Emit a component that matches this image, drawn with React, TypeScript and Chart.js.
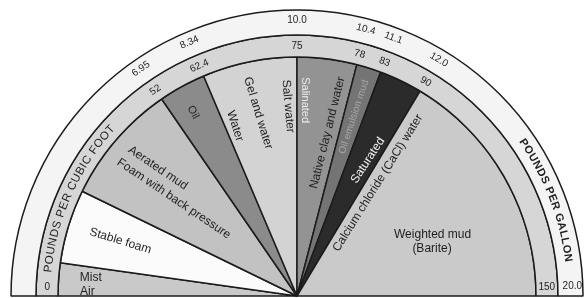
import React, { useEffect, useRef } from 'react';
import { Chart, registerables } from 'chart.js';

Chart.register(...registerables);

// Fluid families shown as wedges, light (left) to heavy (right)
const fluidTypes = [
  'Mist / Air',
  'Stable foam',
  'Aerated mud / Foam with back pressure',
  'Oil',
  'Water / Gel and water / Salt water',
  'Salinated / Native clay and water',
  'Oil emulsion mud',
  'Saturated',
  'Calcium chloride (CaCl) water / Weighted mud (Barite)',
];
// angular share of each wedge on the half dial (degrees)
const wedgeSpanDeg = [8, 18, 29.5, 11.5, 23, 14.5, 6, 10.5, 59];
// density tick labels placed at wedge boundaries
const pcfTicks = ['0', '52', '62.4', '75', '78', '83', '90', '150'];
const ppgTicks = ['', '6.95', '8.34', '10.0', '10.4', '11.1', '12.0', '20.0'];
const tickBoundary = [0, 3, 4, 5, 6, 7, 8, 9];
const ppgTitle = 'POUNDS PER GALLON';
const pcfTitle = 'POUNDS PER CUBIC FOOT';

// ---- styles (not data) ----
const wedgeColors = ['#c9c9c9', '#fbfbfb', '#c2c2c2', '#8b8b8b', '#d3d3d3', '#939393', '#747474', '#2b2b2b', '#cacaca'];
const LINE = '#1b1b1b';
const TXT = '#1e1e1e';
const FONT = '"Liberation Sans", Arial, sans-serif';

// text annotations inside the wedges: th = degrees from left end, r = px at reference inner radius 239
const innerLabels = [
  { t: 'Mist', th: 4.7, r: 218, rot: 0, align: 'left' },
  { t: 'Air', th: 1.05, r: 217, rot: 0, align: 'left' },
  { t: 'Stable foam', th: 17.3, r: 185, rot: 17 },
  { t: 'Aerated mud', th: 42.6, r: 189, rot: 34 },
  { t: 'Foam with back pressure', th: 38.3, r: 157, rot: 34 },
  { t: 'Oil', th: 60.5, r: 211, rot: 62, size: 11 },
  { t: 'Water', th: 70, r: 181, rot: 72 },
  { t: 'Gel and water', th: 78, r: 187, rot: 73 },
  { t: 'Salt water', th: 87.3, r: 190, rot: 85 },
  { t: 'Salinated', th: 92.3, r: 196, rot: 90, color: '#ececec', size: 11 },
  { t: 'Native clay and water', th: 100.6, r: 166, rot: -76 },
  { t: 'Oil emulsion mud', th: 107.6, r: 188, rot: -72, color: '#a8a8a8', size: 10 },
  { t: 'Saturated', th: 117.6, r: 153, rot: -57, color: '#f2f2f2' },
  { t: 'Calcium chloride (CaCl) water', th: 125.6, r: 139, rot: -58 },
  { t: 'Weighted mud', th: 155.5, r: 149, rot: 0 },
  { t: '(Barite)', th: 160.8, r: 143, rot: 0 },
];

function arcText(ctx: CanvasRenderingContext2D, text: string, cx: number, cy: number, r: number, aMid: number) {
  let total = 0;
  const widths = text.split('').map((ch) => {
    const w = ctx.measureText(ch).width + 0.6;
    total += w;
    return w;
  });
  let acc = 0;
  const aStart = aMid - total / 2 / r;
  text.split('').forEach((ch, i) => {
    const a = aStart + (acc + widths[i] / 2) / r;
    acc += widths[i];
    ctx.save();
    ctx.translate(cx + r * Math.cos(a), cy + r * Math.sin(a));
    ctx.rotate(a + Math.PI / 2);
    ctx.fillText(ch, 0, 0);
    ctx.restore();
  });
}

const dialLabels = {
  id: 'dialLabels',
  afterDatasetsDraw(chart: any) {
    const ctx: CanvasRenderingContext2D = chart.ctx;
    const outer = chart.getDatasetMeta(0).data[0];
    const mid = chart.getDatasetMeta(1).data[0];
    const wedges = chart.getDatasetMeta(2).data;
    const cx = outer.x;
    const cy = outer.y;
    const a0 = outer.startAngle;
    const a1 = outer.endAngle;
    const ang = (th: number) => a0 + ((a1 - a0) * th) / 180;
    const rIn = wedges[0].outerRadius;
    const k = rIn / 239;
    const rMid = (mid.innerRadius + mid.outerRadius) / 2;
    const rOut = (outer.innerRadius + outer.outerRadius) / 2;
    const boundaryAngle = (b: number) => (b === 0 ? wedges[0].startAngle : wedges[b - 1].endAngle);

    ctx.save();
    ctx.textBaseline = 'middle';
    ctx.fillStyle = TXT;

    // tick labels on the two bands
    ctx.font = `10px ${FONT}`;
    ctx.textAlign = 'center';
    tickBoundary.forEach((b, i) => {
      const a = boundaryAngle(b);
      const isEnd = i === 0 || i === tickBoundary.length - 1;
      [
        { txt: pcfTicks[i], r: rMid },
        { txt: ppgTicks[i], r: rOut + 2 },
      ].forEach(({ txt, r }) => {
        if (!txt) return;
        ctx.save();
        if (isEnd) {
          const aa = a + (i === 0 ? 1 : -1) * (2.1 * Math.PI) / 180;
          ctx.translate(cx + r * Math.cos(aa), cy + r * Math.sin(aa));
        } else {
          ctx.translate(cx + r * Math.cos(a), cy + r * Math.sin(a));
          ctx.rotate(a + Math.PI / 2);
        }
        ctx.fillText(txt, 0, 0);
        ctx.restore();
      });
    });

    // band titles along the arcs
    ctx.font = `11.5px ${FONT}`;
    arcText(ctx, pcfTitle, cx, cy, rMid, ang(24));
    ctx.font = `bold 11px ${FONT}`;
    arcText(ctx, ppgTitle, cx, cy, rOut, ang(159));

    // wedge annotations
    innerLabels.forEach((l: any) => {
      const a = ang(l.th);
      const r = l.r * k;
      ctx.save();
      ctx.font = `${l.size || 12}px ${FONT}`;
      ctx.fillStyle = l.color || TXT;
      ctx.textAlign = l.align || 'center';
      ctx.translate(cx + r * Math.cos(a), cy + r * Math.sin(a));
      ctx.rotate((l.rot * Math.PI) / 180);
      ctx.fillText(l.t, 0, 0);
      ctx.restore();
    });
    ctx.restore();
  },
};

export default function App() {
  const ref = useRef<HTMLCanvasElement | null>(null);
  useEffect(() => {
    document.body.style.margin = '0';
    const canvas = ref.current!;
    const chart = new Chart(canvas, {
      type: 'doughnut',
      data: {
        labels: fluidTypes,
        datasets: [
          { label: 'ppg band', data: [180], backgroundColor: ['#f4f4f4'], borderColor: LINE, borderWidth: 1.5, weight: 25 } as any,
          { label: 'pcf band', data: [180], backgroundColor: ['#d6d6d6'], borderColor: LINE, borderWidth: 1.5, weight: 22 } as any,
          { label: 'fluids', data: wedgeSpanDeg, backgroundColor: wedgeColors, borderColor: LINE, borderWidth: 1.5, weight: 239 } as any,
        ],
      },
      options: {
        responsive: false,
        animation: false,
        events: [],
        circumference: 180,
        rotation: -90,
        cutout: 0,
        layout: { padding: { top: 9.25, bottom: 1.25, left: 10.25, right: 2.25 } },
        plugins: { legend: { display: false }, tooltip: { enabled: false } },
      } as any,
      plugins: [dialLabels],
    });
    return () => chart.destroy();
  }, []);
  return (
    <div style={{ width: 586, height: 298, background: '#fff' }}>
      <canvas ref={ref} width={586} height={298} style={{ display: 'block' }} />
    </div>
  );
}
